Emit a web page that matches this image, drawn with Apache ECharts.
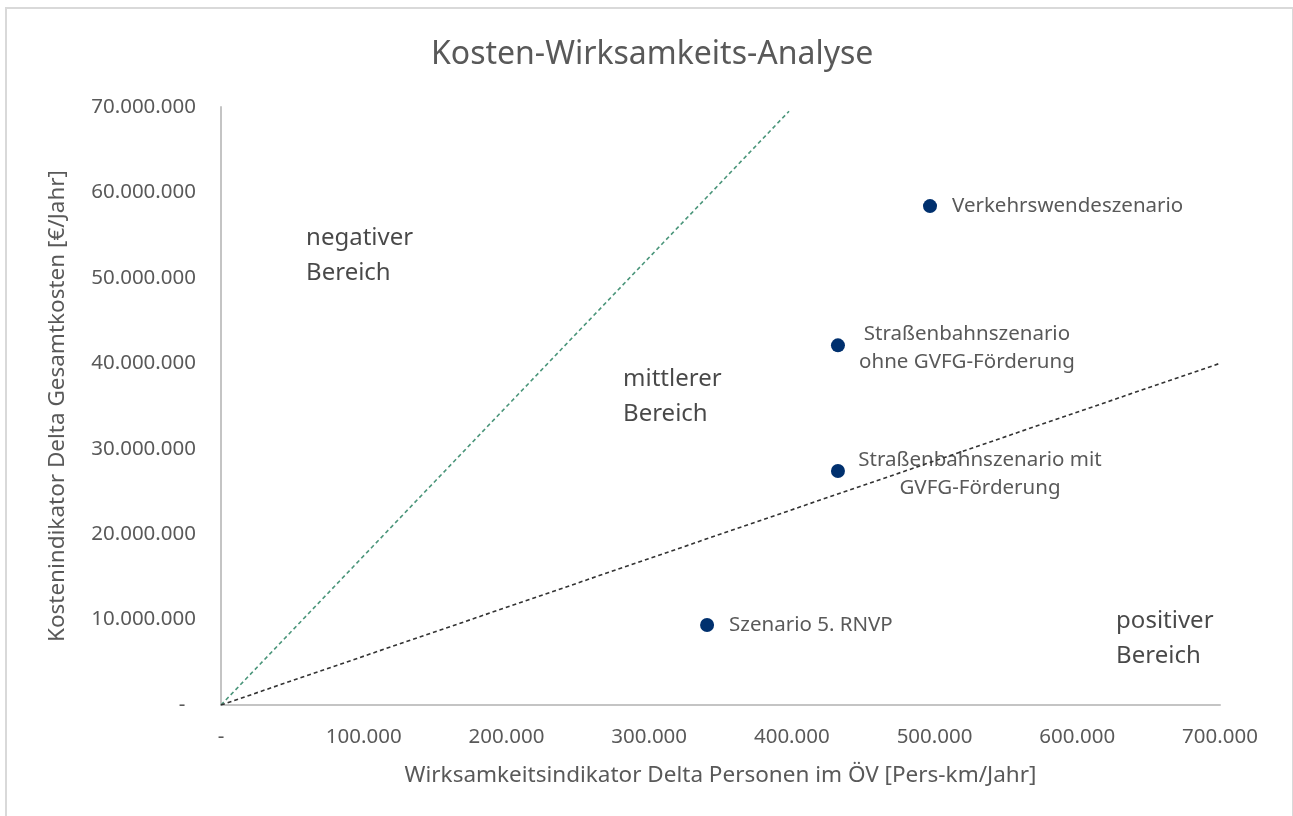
<!DOCTYPE html>
<html>
<head>
    <meta charset="utf-8">
    <script type="text/javascript" src="https://cdn.jsdelivr.net/npm/echarts@6/dist/echarts.min.js"></script>
    <title>Kosten-Wirksamkeits-Analyse</title>
    <style>
        html, body { margin: 0; padding: 0; background: #fff; }
        #main { position: absolute; left: 0; top: 0; width: 1293px; height: 816px; }
        #frame { position: absolute; left: 5px; top: 7px; width: 1285px; height: 820px;
                 border: 2px solid #d9d9d9; pointer-events: none; }
    </style>
</head>
<body>
<div id="main"></div>
<div id="frame"></div>
<script type="text/javascript">

    // Szenarien
    var scenarioNames = ['Verkehrswendeszenario', 'Straßenbahnszenario\nohne GVFG-Förderung',
        'Straßenbahnszenario mit\nGVFG-Förderung', 'Szenario 5. RNVP'];
    var effectValues = [496800, 432300, 432300, 340600];   // Pers-km/Jahr
    var costValues = [58400000, 42100000, 27400000, 9360000]; // €/Jahr

    // Grenzlinien
    var upperLine = [[0, 0], [398000, 69500000]];
    var lowerLine = [[0, 0], [700000, 40000000]];

    // Bereichsbeschriftungen
    var areaNames = ['negativer\nBereich', 'mittlerer\nBereich', 'positiver\nBereich'];
    var areaX = [59600, 281700, 627200];
    var areaY = [56700000, 40200000, 11900000];

    function fmt(v) {
        if (v === 0) return '-';
        return String(v).replace(/\B(?=(\d{3})+(?!\d))/g, '.');
    }

    var labelOffsets = [
        { position: 'right', distance: 15 },
        { position: 'right', align: 'center', offset: [117, 3] },
        { position: 'right', align: 'center', offset: [130, 3] },
        { position: 'right', distance: 15 }
    ];

    var pointData = [];
    for (var i = 0; i < scenarioNames.length; i++) {
        pointData.push({
            name: scenarioNames[i],
            value: [effectValues[i], costValues[i]],
            label: labelOffsets[i]
        });
    }

    var areaData = [];
    for (var j = 0; j < areaNames.length; j++) {
        areaData.push({ name: areaNames[j], value: [areaX[j], areaY[j]] });
    }

    var font = '"Noto Sans", "Open Sans", sans-serif';
    var myChart = echarts.init(document.getElementById('main'));

    var option = {
        animation: false,
        textStyle: { fontFamily: font },
        title: {
            text: 'Kosten-Wirksamkeits-Analyse',
            left: 426,
            top: 34,
            textStyle: { fontSize: 32, fontWeight: 'normal', color: '#595959', fontFamily: font }
        },
        grid: { left: 221, right: 73, top: 107, bottom: 111 },
        xAxis: {
            type: 'value',
            min: 0,
            max: 700000,
            interval: 100000,
            name: 'Wirksamkeitsindikator Delta Personen im ÖV [Pers-km/Jahr]',
            nameLocation: 'middle',
            nameGap: 59,
            nameTextStyle: { fontSize: 22.5, color: '#595959' },
            axisLine: { lineStyle: { color: '#c4c4c4', width: 2 } },
            axisTick: { show: false },
            splitLine: { show: false },
            axisLabel: { fontSize: 20.5, color: '#595959', margin: 22, formatter: fmt }
        },
        yAxis: {
            type: 'value',
            min: 0,
            max: 70000000,
            interval: 10000000,
            name: 'Kostenindikator Delta Gesamtkosten [€/Jahr]',
            nameLocation: 'middle',
            nameGap: 152,
            nameTextStyle: { fontSize: 22.5, color: '#595959' },
            axisLine: { show: true, lineStyle: { color: '#c4c4c4', width: 2 } },
            axisTick: { show: false },
            splitLine: { show: false },
            axisLabel: {
                fontSize: 20.5, color: '#595959', margin: 25,
                formatter: function (v) { return v === 0 ? '-  ' : fmt(v); }
            }
        },
        series: [
            {
                type: 'line',
                data: upperLine,
                showSymbol: false,
                silent: true,
                lineStyle: { color: '#4a957a', width: 1.6, type: [4, 3] }
            },
            {
                type: 'line',
                data: lowerLine,
                showSymbol: false,
                silent: true,
                lineStyle: { color: '#333333', width: 1.6, type: [4, 3] }
            },
            {
                type: 'scatter',
                data: areaData,
                symbolSize: 0,
                silent: true,
                label: {
                    show: true,
                    position: [0, 0],
                    align: 'left',
                    verticalAlign: 'top',
                    formatter: '{b}',
                    fontSize: 24,
                    lineHeight: 35,
                    color: '#1a1a1a'
                }
            },
            {
                type: 'scatter',
                data: pointData,
                symbolSize: 14,
                itemStyle: { color: '#00306e', opacity: 1 },
                label: {
                    show: true,
                    formatter: '{b}',
                    fontSize: 20.5,
                    lineHeight: 27.5,
                    color: '#595959'
                }
            }
        ]
    };
    myChart.setOption(option);

</script>
</body>
</html>
